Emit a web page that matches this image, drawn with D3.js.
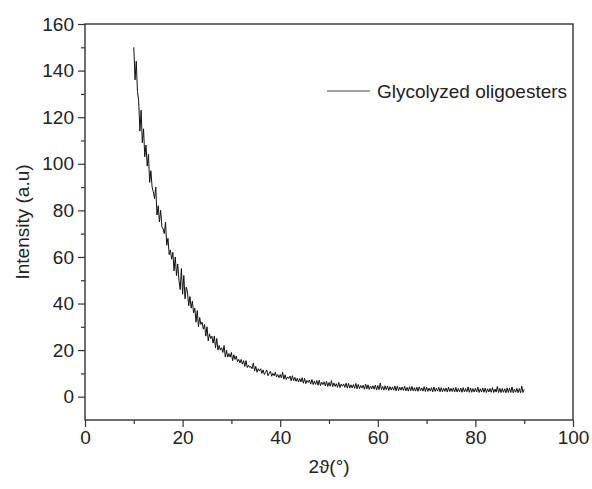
<!DOCTYPE html>
<html>
<head>
<meta charset="utf-8">
<script src="https://cdn.jsdelivr.net/npm/d3@7"></script>
<style>
  body { margin: 0; background: #fff; }
  text { font-family: Arial, "Liberation Sans", sans-serif; fill: #222; }
</style>
</head>
<body>
<svg width="592" height="489"></svg>
<script>
// scan grid: 10° to 90°, step 0.25°
let scanStart = 10
let scanStep = 0.25

// intensity, one row per degree (x, x+.25, x+.5, x+.75)
let intensity = [
  150, 136, 144, 131,
  127, 114, 123, 109,
  115, 103, 108, 99,
  104, 92, 97, 90,
  88, 85, 90, 78,
  82, 75, 80, 73,
  72, 70, 75, 65,
  68, 61, 63, 59,
  62, 54, 60, 52,
  57, 50, 46, 55,
  44, 52, 42, 47,
  45, 39, 43, 38,
  41, 36, 38, 32,
  37, 30, 34, 31,
  32, 29, 31, 26,
  30, 24, 27, 25,
  26, 23, 26, 21,
  25, 20, 22, 20,
  21, 19, 22, 17,
  20, 17, 18.5, 17,
  19, 15.5, 18, 16,
  17.5, 15, 16, 14.5,
  16, 14, 15.5, 13,
  15.5, 12.5, 13.5, 12.5,
  13, 12, 14.5, 11,
  13, 10.5, 12, 11,
  12, 10, 11.5, 9.5,
  10.5, 11.5, 9, 10,
  11, 8.8, 10, 9,
  10.5, 8.5, 9.5, 8.2,
  9.5, 8, 10.5, 7.5,
  9.4, 7.4, 8.5, 7.8,
  8.9, 6.8, 9, 6.9,
  8.3, 6.6, 7.9, 6.3,
  7.8, 6.3, 8.2, 5.8,
  7.9, 5.6, 7, 6.1,
  7.2, 5.4, 7.4, 5.2,
  6.7, 5.3, 7, 4.9,
  7.1, 4.8, 6.2, 5.2,
  6.4, 4.6, 6.6, 4.4,
  6.1, 4.5, 6.9, 4.3,
  5.9, 4.4, 5.6, 4,
  6.1, 3.9, 5.4, 4.5,
  5.5, 4, 5.8, 3.7,
  5.7, 3.7, 5.1, 3.8,
  5.2, 3.6, 5.7, 3.4,
  5.3, 3.5, 4.8, 3.7,
  4.9, 3.2, 5.4, 3.3,
  5.1, 3.1, 4.6, 3.4,
  4.7, 3.2, 5, 2.9,
  4.8, 3, 5.8, 3.1,
  4.4, 2.8, 4.7, 3,
  4.6, 2.7, 4.3, 2.9,
  4.2, 2.8, 4.6, 2.5,
  4.5, 2.6, 4.1, 2.8,
  4.2, 2.7, 4.5, 2.5,
  4, 2.4, 4.3, 2.6,
  4.4, 2.5, 3.9, 2.4,
  4.1, 2.3, 4.2, 2.6,
  3.8, 2.4, 4.3, 2.2,
  4.1, 2.3, 3.7, 2.4,
  3.9, 2.1, 4.2, 2.3,
  3.6, 2.4, 4, 2.1,
  3.9, 2.1, 3.6, 2.3,
  3.7, 2, 4.1, 2.2,
  3.6, 2.2, 3.8, 2,
  4, 2, 3.5, 2.1,
  3.7, 1.9, 3.9, 2.1,
  3.5, 2.1, 4.2, 1.9,
  3.8, 1.9, 3.5, 2,
  3.6, 2, 4.1, 1.8,
  3.4, 2, 3.8, 1.9,
  3.7, 1.8, 3.4, 2,
  3.5, 1.9, 3.9, 1.8,
  3.3, 2, 4.4, 1.8,
  3.6, 1.8, 3.5, 1.9,
  3.4, 1.7, 3.8, 1.8,
  3.7, 1.8, 4.2, 1.7,
  3.3, 1.9, 3.6, 1.7,
  3.5, 1.7, 4.5, 1.8,
  3.1
]

let xTicks = [0, 20, 40, 60, 80, 100]
let yTicks = [0, 20, 40, 60, 80, 100, 120, 140, 160]
let seriesName = 'Glycolyzed oligoesters'

let points = intensity.map((v, i) => ({ x: scanStart + i * scanStep, y: v }))

let svg = d3.select('svg')
let mLeft = 85, mRight = 573, mTop = 24, mBottom = 420

let x = d3.scaleLinear().domain([0, 100]).range([mLeft, mRight])
let y = d3.scaleLinear().domain([-10, 160]).range([mBottom, mTop])

// minor ticks
svg.append('g')
  .attr('transform', `translate(0,${mBottom})`)
  .call(d3.axisBottom(x).tickValues(d3.range(10, 100, 20)).tickSize(4).tickFormat(''))
  .call(g => g.select('.domain').remove())
  .selectAll('line').attr('stroke', '#333').attr('stroke-width', 1.2)

svg.append('g')
  .attr('transform', `translate(${mLeft},0)`)
  .call(d3.axisLeft(y).tickValues(d3.range(10, 160, 20)).tickSize(4).tickFormat(''))
  .call(g => g.select('.domain').remove())
  .selectAll('line').attr('stroke', '#333').attr('stroke-width', 1.2)

// major ticks
let xAxis = svg.append('g')
  .attr('transform', `translate(0,${mBottom})`)
  .call(d3.axisBottom(x).tickValues(xTicks).tickSize(7).tickPadding(4))
xAxis.select('.domain').remove()
xAxis.selectAll('line').attr('stroke', '#333').attr('stroke-width', 1.2)
xAxis.selectAll('text').attr('font-size', 19).style('fill', '#222')

let yAxis = svg.append('g')
  .attr('transform', `translate(${mLeft},0)`)
  .call(d3.axisLeft(y).tickValues(yTicks).tickSize(7).tickPadding(4))
yAxis.select('.domain').remove()
yAxis.selectAll('line').attr('stroke', '#333').attr('stroke-width', 1.2)
yAxis.selectAll('text').attr('font-size', 19).style('fill', '#222')

// frame
svg.append('rect')
  .attr('x', mLeft).attr('y', mTop)
  .attr('width', mRight - mLeft).attr('height', mBottom - mTop)
  .attr('fill', 'none').attr('stroke', '#333').attr('stroke-width', 1.4)

// curve
svg.append('path')
  .datum(points)
  .attr('fill', 'none')
  .attr('stroke', '#111')
  .attr('stroke-width', 1)
  .attr('d', d3.line().x(d => x(d.x)).y(d => y(d.y)))

// legend
svg.append('line')
  .attr('x1', 327).attr('x2', 370).attr('y1', 91).attr('y2', 91)
  .attr('stroke', '#444').attr('stroke-width', 1)
svg.append('text')
  .attr('x', 377).attr('y', 98)
  .attr('font-size', 19)
  .text(seriesName)

// axis titles
svg.append('text')
  .attr('x', (mLeft + mRight) / 2).attr('y', 473)
  .attr('text-anchor', 'middle')
  .attr('font-size', 19)
  .text('2\u03D1(\u00B0)')

svg.append('text')
  .attr('transform', `translate(29,${(mTop + mBottom) / 2}) rotate(-90)`)
  .attr('text-anchor', 'middle')
  .attr('font-size', 19)
  .text('Intensity (a.u)')
</script>
</body>
</html>
